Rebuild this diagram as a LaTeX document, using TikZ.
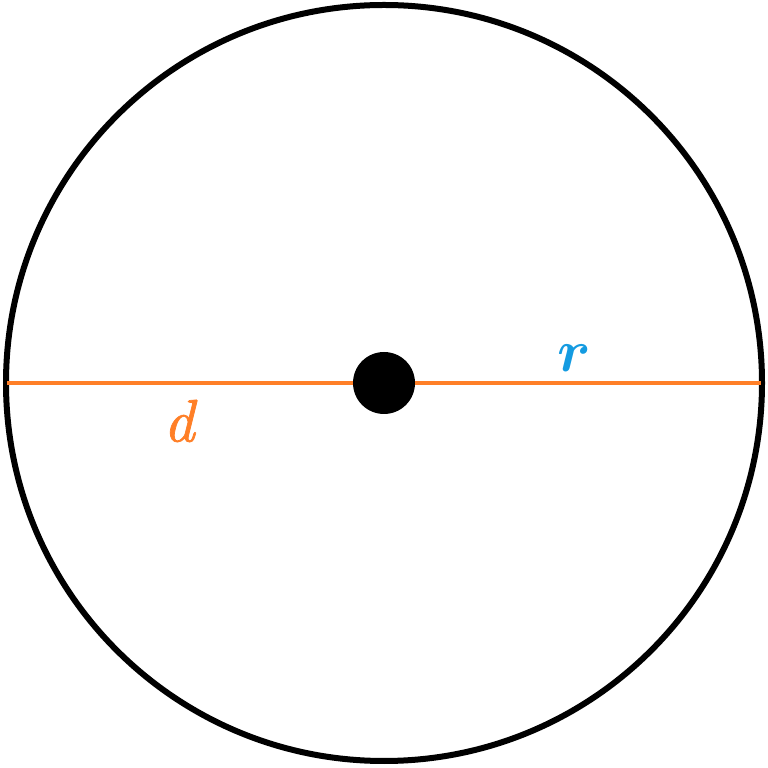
\documentclass[tikz,border=0pt]{standalone}
\usepackage{amsmath,amssymb,bm}
\usepackage{fontspec}
\newfontface\dfont{lmroman10-italic.otf}[FakeBold=1.2]
\definecolor{dorange}{RGB}{255,127,39}
\definecolor{rblue}{RGB}{20,155,225}
\begin{document}
\begin{tikzpicture}[x=1pt,y=1pt,
  rim/.style={draw=black,line width=6pt},
  diam/.style={draw=dorange,line width=4.5pt},
  lab/.style={inner sep=0pt,scale=6}]
\useasboundingbox (0,0) rectangle (768,768);
\coordinate (O) at (384,385);
\node[circle,draw=black,line width=6pt,minimum size=756pt,inner sep=0pt] (C) at (O) {};
\coordinate (L) at (7,385);
\coordinate (R) at (761,385);
\draw[diam] (L) -- (R);
\node[circle,fill=black,minimum size=62pt,inner sep=0pt] (dot) at (O) {};
\node[lab,text=dorange] (d) at (179,347) {\dfont d};
\node[lab,text=rblue] (r) at (574,410) {$\boldsymbol{r}$};
\end{tikzpicture}
\end{document}
